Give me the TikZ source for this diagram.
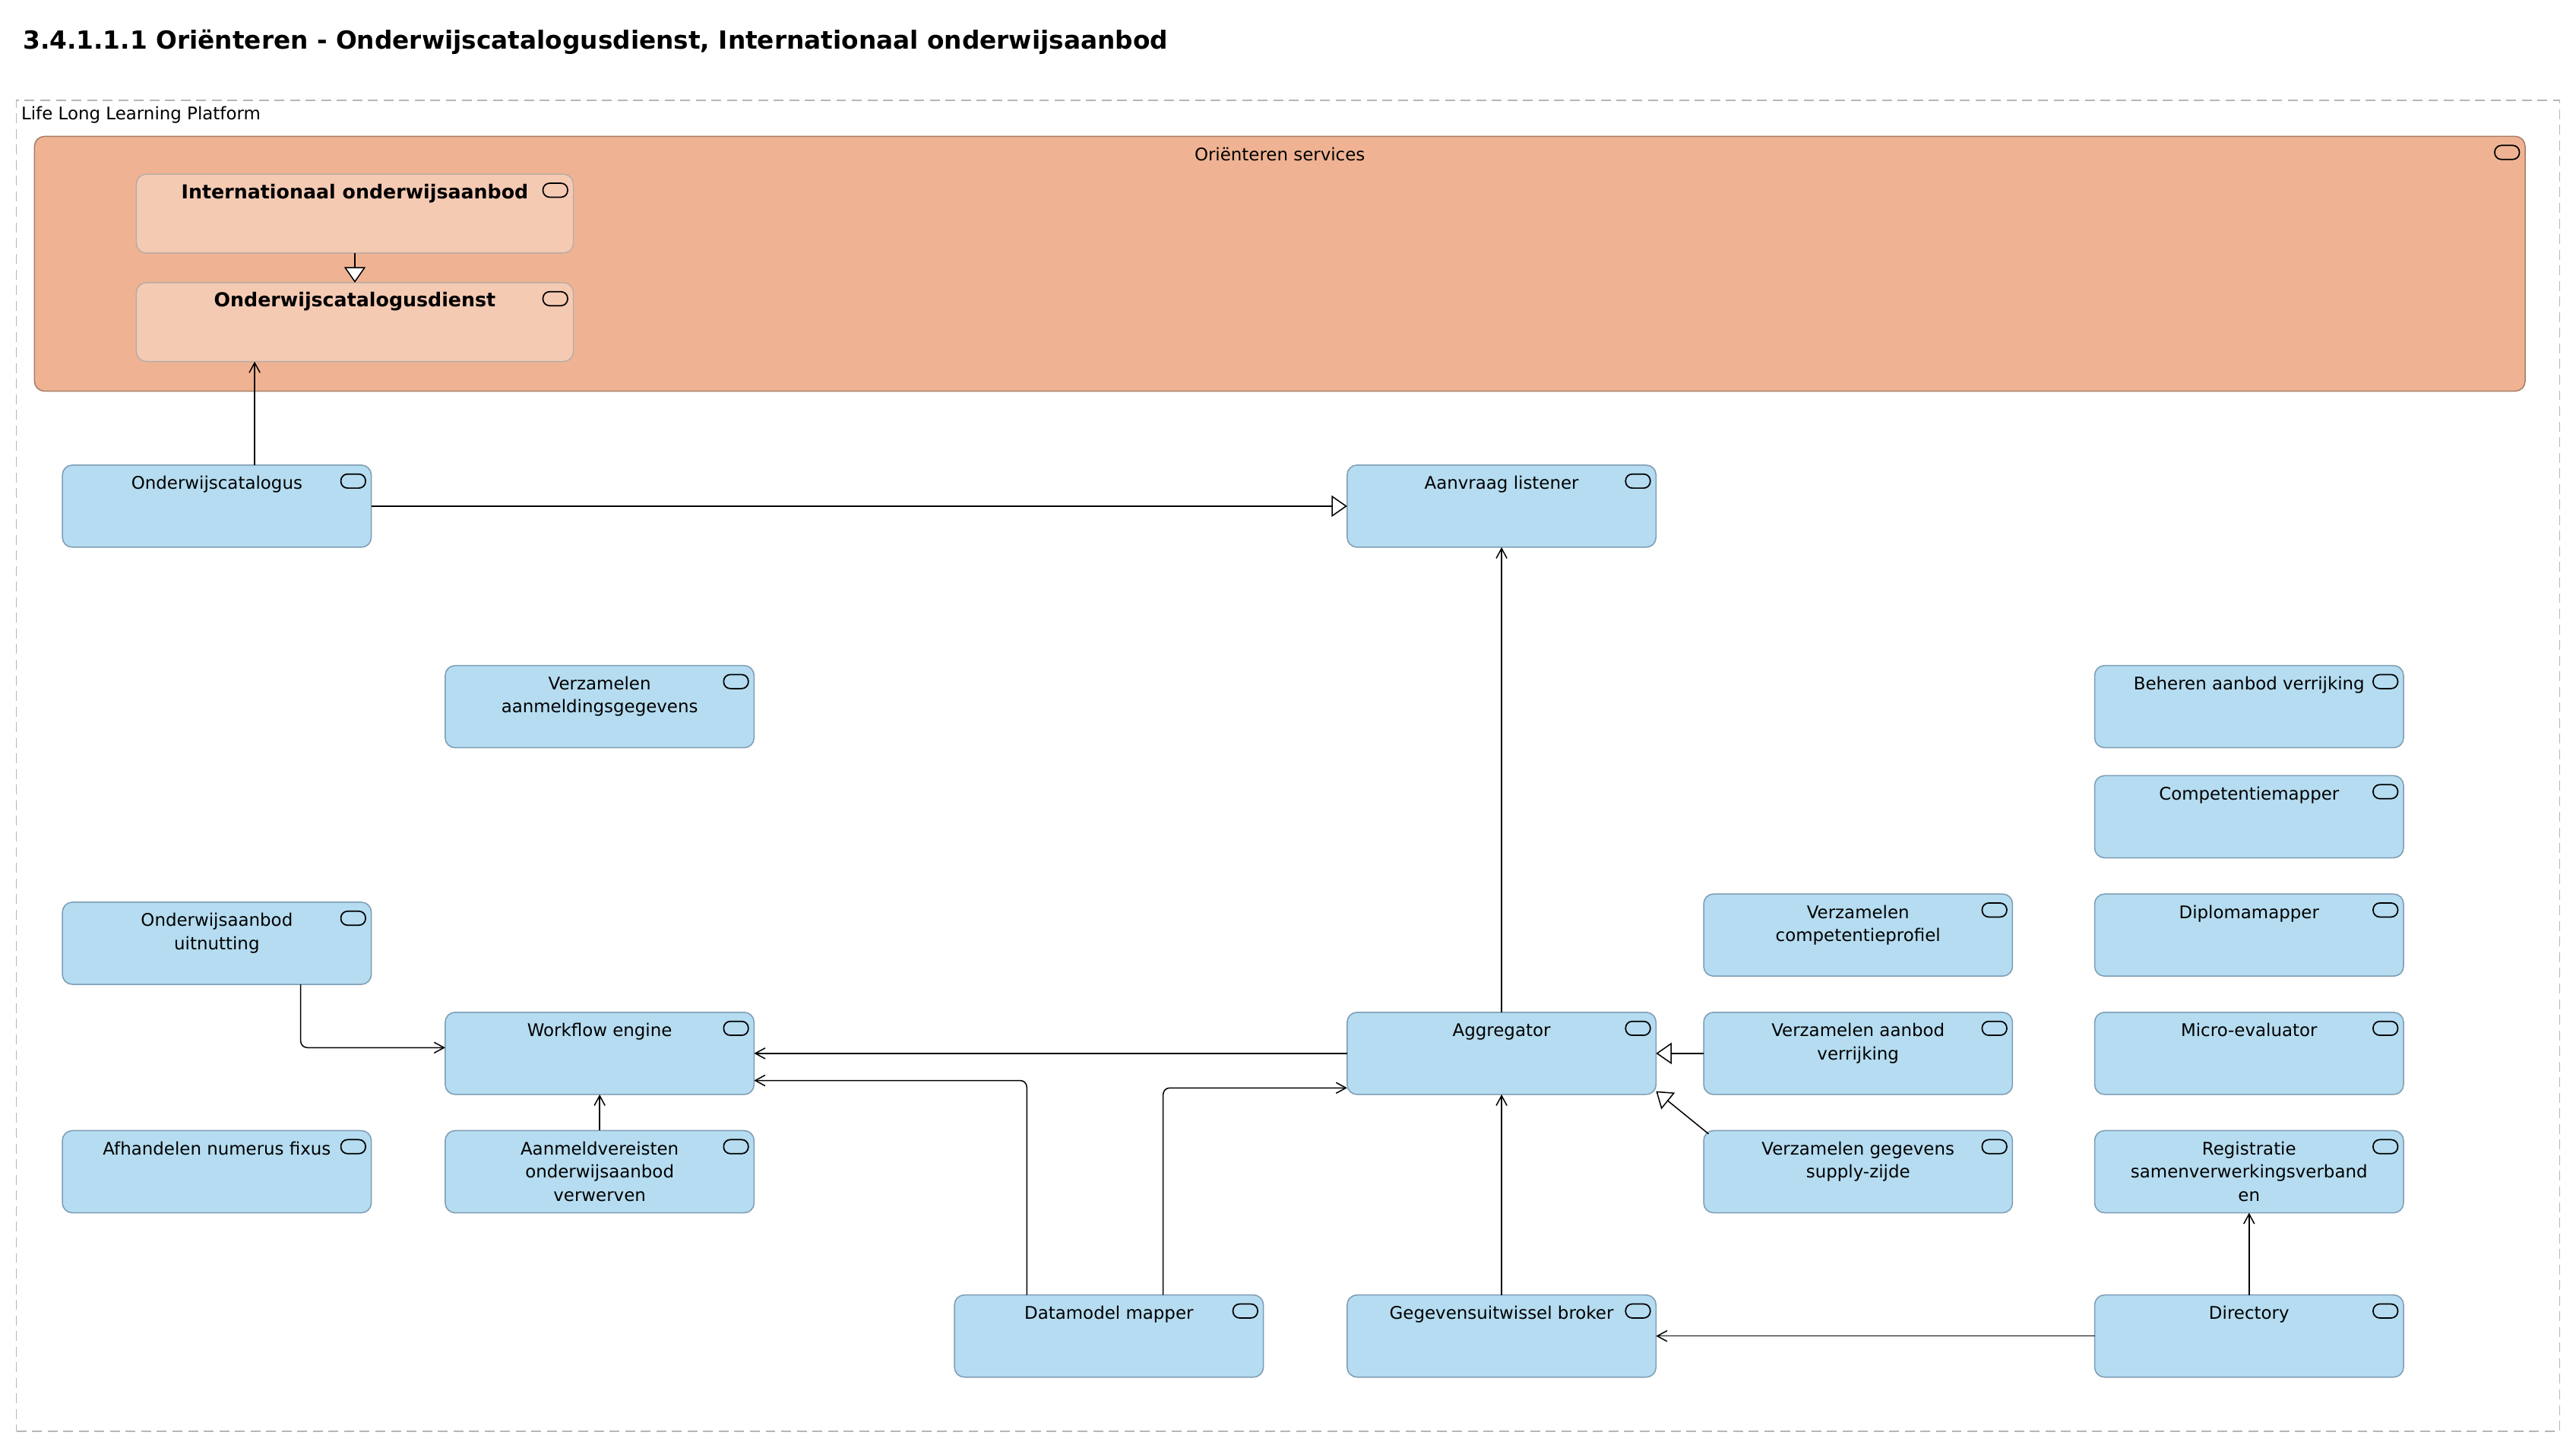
\documentclass[tikz,border=0pt]{standalone}
\usepackage{fontspec}
\setmainfont{DejaVu Sans}
\usetikzlibrary{arrows.meta}
\definecolor{svcfill}{RGB}{181,220,240}
\definecolor{svcline}{RGB}{125,157,180}
\definecolor{grpfill}{RGB}{239,179,147}
\definecolor{grpline}{RGB}{168,124,100}
\definecolor{subfill}{RGB}{245,202,179}
\definecolor{subline}{RGB}{184,172,165}
\definecolor{platline}{RGB}{182,182,182}
\newcommand{\boxtext}[3]{\parbox[t][#2][t]{#1}{\centering\rule{0pt}{10.8bp}#3}}

\begin{document}
\begin{tikzpicture}[x=1bp,y=-1bp,inner sep=0pt,outer sep=0pt,
  archi/.style={line width=0.7bp,rounded corners=6bp,inner sep=4bp,anchor=north west,
    font=\fontsize{10.6bp}{14bp}\selectfont,
    path picture={\draw[black,line width=0.8bp,rounded corners=4bp]
      ([xshift=-18.5bp,yshift=-5.5bp]path picture bounding box.north east) rectangle
      ([xshift=-3.5bp,yshift=-14bp]path picture bounding box.north east);}},
  svc/.style={archi,draw=svcline,fill=svcfill},
  grp/.style={archi,draw=grpline,fill=grpfill},
  sub/.style={archi,draw=subline,fill=subfill,font=\bfseries\fontsize{11.7bp}{14bp}\selectfont},
  serves/.style={line width=0.7bp,-{Straight Barb[length=6bp,width=6.5bp]}},
  realizes/.style={line width=0.7bp,-{Triangle[length=9.5bp,width=13bp,fill=white]}}]
  \useasboundingbox (0,0) rectangle (1568,881);
  \node[anchor=base west] (title) at (14,30) {{\fontsize{15.15bp}{18bp}\selectfont\bfseries 3.4.1.1.1 Oriënteren - Onderwijscatalogusdienst, Internationaal onderwijsaanbod}};
  \node[draw=platline,dash pattern=on 6bp off 3.5bp,line width=0.7bp,anchor=north west,minimum width=1548bp,minimum height=810bp] (llp) at (10,61) {};
  \node[anchor=base west] (llplbl) at (13,73) {{\fontsize{10.6bp}{13bp}\selectfont Life Long Learning Platform}};
  % Orienteren services
  \node[grp] (orsvc) at (21,83) {\boxtext{1508bp}{147bp}{Oriënteren services}};
  \node[sub] (ioa) at (83,106) {\boxtext{258bp}{40bp}{Internationaal onderwijsaanbod}};
  \node[sub] (ocd) at (83,172) {\boxtext{258bp}{40bp}{Onderwijscatalogusdienst}};
  % application services
  \node[svc] (odc) at (38,283) {\boxtext{180bp}{42bp}{Onderwijscatalogus}};
  \node[svc] (avl) at (820,283) {\boxtext{180bp}{42bp}{Aanvraag listener}};
  \node[svc] (vag) at (271,405) {\boxtext{180bp}{42bp}{Verzamelen\\aanmeldingsgegevens}};
  \node[svc] (bav) at (1275,405) {\boxtext{180bp}{42bp}{Beheren aanbod verrijking}};
  \node[svc] (cmp) at (1275,472) {\boxtext{180bp}{42bp}{Competentiemapper}};
  \node[svc] (vcp) at (1037,544) {\boxtext{180bp}{42bp}{Verzamelen\\competentieprofiel}};
  \node[svc] (dip) at (1275,544) {\boxtext{180bp}{42bp}{Diplomamapper}};
  \node[svc] (oau) at (38,549) {\boxtext{180bp}{42bp}{Onderwijsaanbod\\uitnutting}};
  \node[svc] (wfe) at (271,616) {\boxtext{180bp}{42bp}{Workflow engine}};
  \node[svc] (agg) at (820,616) {\boxtext{180bp}{42bp}{Aggregator}};
  \node[svc] (vav) at (1037,616) {\boxtext{180bp}{42bp}{Verzamelen aanbod\\verrijking}};
  \node[svc] (mev) at (1275,616) {\boxtext{180bp}{42bp}{Micro-evaluator}};
  \node[svc] (anf) at (38,688) {\boxtext{180bp}{42bp}{Afhandelen numerus fixus}};
  \node[svc] (amv) at (271,688) {\boxtext{180bp}{42bp}{Aanmeldvereisten\\onderwijsaanbod\\verwerven}};
  \node[svc] (vgs) at (1037,688) {\boxtext{180bp}{42bp}{Verzamelen gegevens\\supply-zijde}};
  \node[svc] (reg) at (1275,688) {\boxtext{180bp}{42bp}{Registratie\\samenverwerkingsverband\\en}};
  \node[svc] (dmm) at (581,788) {\boxtext{180bp}{42bp}{Datamodel mapper}};
  \node[svc] (gub) at (820,788) {\boxtext{180bp}{42bp}{Gegevensuitwissel broker}};
  \node[svc] (dir) at (1275,788) {\boxtext{180bp}{42bp}{Directory}};
  % relations
  \draw[realizes] (ioa.south) -- (ocd.north);
  \draw[serves] ([xshift=23bp]odc.north) -- ([xshift=23bp]odc.north |- ocd.south);
  \draw[realizes] (odc.east) -- (avl.west);
  \draw[serves] (agg.north) -- (avl.south);
  \draw[serves,rounded corners=4bp] ([xshift=51bp]oau.south) |- ([yshift=3.5bp]wfe.west);
  \draw[serves] (agg.west) -- (wfe.east);
  \draw[serves,rounded corners=4bp] ([xshift=-50bp]dmm.north) |- ([yshift=-16.5bp]wfe.east);
  \draw[serves,rounded corners=4bp] ([xshift=33bp]dmm.north) |- ([yshift=-21bp]agg.west);
  \draw[serves] (amv.north) -- (wfe.south);
  \draw[serves] (gub.north) -- (agg.south);
  \draw[realizes] (vav.west) -- (agg.east);
  \draw[realizes] ([xshift=3bp,yshift=-2bp]vgs.north west) -- ([yshift=2bp]agg.south east);
  \draw[serves] (dir.west) -- (gub.east);
  \draw[serves] (dir.north) -- (reg.south);
\end{tikzpicture}
\end{document}
